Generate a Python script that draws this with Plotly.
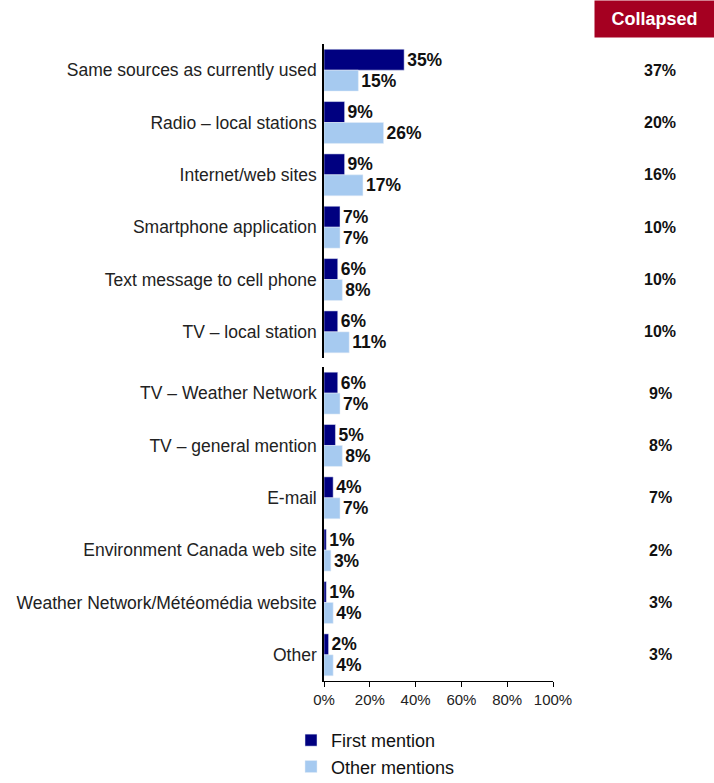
import plotly.graph_objects as go
from plotly.subplots import make_subplots

# Upper and lower blocks of sources
cats_top = ["Same sources as currently used", "Radio – local stations", "Internet/web sites",
            "Smartphone application", "Text message to cell phone", "TV – local station"]
cats_bottom = ["TV – Weather Network", "TV – general mention", "E-mail",
               "Environment Canada web site", "Weather Network/Météomédia website", "Other"]

first_top = [35, 9, 9, 7, 6, 6]
other_top = [15, 26, 17, 7, 8, 11]
collapsed_top = [37, 20, 16, 10, 10, 10]

first_bottom = [6, 5, 4, 1, 1, 2]
other_bottom = [7, 8, 7, 3, 4, 4]
collapsed_bottom = [9, 8, 7, 2, 3, 3]

x_ticks = [0, 20, 40, 60, 80, 100]

DARK = "#000080"
LIGHT = "#A6CAF0"
FONT = "Liberation Sans, Arial, sans-serif"

fig = make_subplots(rows=2, cols=1, shared_xaxes=True, vertical_spacing=0.014)

def add_block(cats, first, other, row, show):
    fig.add_trace(go.Bar(
        y=cats, x=first, orientation="h", name="First mention", marker_color=DARK,
        text=[f"{v}%" for v in first], textposition="outside", cliponaxis=False,
        textfont=dict(family=FONT, size=17.5, color="#111111", weight="bold"),
        showlegend=show, legendgroup="first"), row=row, col=1)
    fig.add_trace(go.Bar(
        y=cats, x=other, orientation="h", name="Other mentions", marker_color=LIGHT,
        text=[f"{v}%" for v in other], textposition="outside", cliponaxis=False,
        textfont=dict(family=FONT, size=17.5, color="#111111", weight="bold"),
        showlegend=show, legendgroup="other"), row=row, col=1)

add_block(cats_top, first_top, other_top, 1, True)
add_block(cats_bottom, first_bottom, other_bottom, 2, False)

# Collapsed column on the right
for cats, vals, yref in [(cats_top, collapsed_top, "y"), (cats_bottom, collapsed_bottom, "y2")]:
    for c, v in zip(cats, vals):
        fig.add_annotation(x=1.468, xref="paper", y=c, yref=yref, text=f"{v}%",
                           showarrow=False, xanchor="center",
                           font=dict(family=FONT, size=16, color="#111111", weight="bold"))

fig.add_annotation(x=1.443, xref="paper", y=1.0094, yref="paper", text="Collapsed",
                   showarrow=False, xanchor="center", yanchor="bottom",
                   width=115, height=32, bgcolor="#A50021", borderpad=2,
                   font=dict(family=FONT, size=18, color="white", weight="bold"))

axis_y = dict(autorange="reversed", showline=True, linecolor="black", linewidth=1.5,
              ticks="", showgrid=False, tickfont=dict(family=FONT, size=17.5, color="#222222"),
              ticklabelstandoff=2)
fig.update_yaxes(**axis_y)
fig.update_layout(yaxis=dict(domain=[0.507, 1.0]), yaxis2=dict(domain=[0.0, 0.493]))

fig.update_xaxes(range=[0, 100], tickvals=x_ticks, ticktext=[f"{t}%" for t in x_ticks],
                 showgrid=False, zeroline=False, showline=True, linecolor="black", linewidth=1,
                 ticks="outside", ticklen=5, tickcolor="black",
                 tickfont=dict(family=FONT, size=15, color="#222222"))
fig.update_xaxes(showline=False, ticks="", showticklabels=False, row=1, col=1)

fig.update_layout(
    width=714, height=783, barmode="group", bargap=0.2, bargroupgap=0,
    plot_bgcolor="white", paper_bgcolor="white",
    margin=dict(l=324, r=161, t=44, b=102, autoexpand=False),
    font=dict(family=FONT),
    legend=dict(xref="container", yref="container", x=0.4076, y=0.078,
                xanchor="left", yanchor="top", traceorder="normal",
                font=dict(family=FONT, size=18, color="#111111"), itemwidth=30,
                tracegroupgap=5),
)

fig.write_html("out.html")
